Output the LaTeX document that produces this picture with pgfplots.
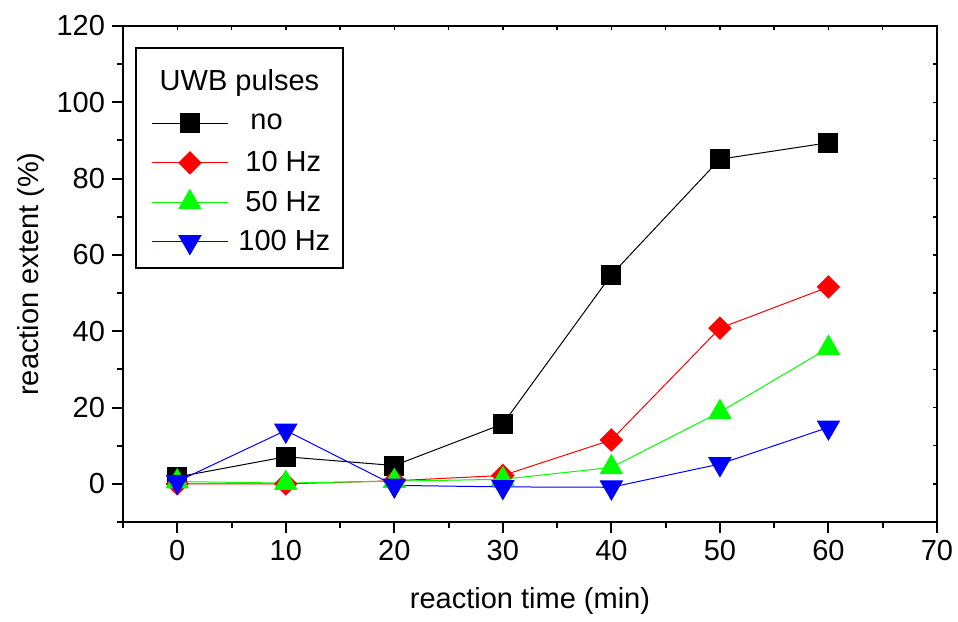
\documentclass[border=0pt]{standalone}
\usepackage{fontspec}
\setmainfont{Liberation Sans}
\usepackage{pgfplots}
\pgfplotsset{compat=1.18}
\begin{document}
\begin{tikzpicture}[font=\fontsize{14.5}{17}\selectfont]
\path[use as bounding box] (-61.5pt,-49.5pt) rectangle (417.5pt,261pt);
\begin{axis}[
  at={(0,0)}, anchor=south west, scale only axis,
  width=407pt, height=248pt,
  xmin=-5, xmax=70, ymin=-10, ymax=120,
  xtick={0,10,...,70}, minor xtick={-5,5,...,65},
  ytick={0,20,...,120}, minor ytick={-10,10,...,110},
  xtick pos=left, ytick pos=left, tick align=outside,
  major tick length=5.5pt, minor tick length=3pt,
  axis line style={line width=1pt},
  every tick/.style={line width=1pt, black},
  /pgf/number format/assume math mode=true,
  xticklabel style={font=\fontsize{14.5}{17}\selectfont},
  yticklabel style={font=\fontsize{14.5}{17}\selectfont},
  xlabel={reaction time (min)}, ylabel={reaction extent (\%)},
  xlabel style={at={(axis description cs:0.5,0)}, anchor=center, yshift=-39.5pt},
  ylabel style={at={(axis description cs:0,0.5)}, anchor=center, rotate=0, yshift=46pt},
  legend style={at={(0.0344,0.8443)}, anchor=north west, draw=none, fill=none,
    inner sep=0pt, column sep=5pt, row sep=0pt,
    nodes={inner sep=0pt, minimum height=19.75pt},
    font=\fontsize{14.5}{17}\selectfont},
  legend cell align=left,
  legend image code/.code={\draw[mark repeat=2,mark phase=2] plot coordinates {(0pt,0pt)(19pt,0pt)(38pt,0pt)};},
]
\addplot[black, line width=0.5pt, mark=square*, mark size=4.75pt, mark options={solid}] coordinates {
 (0,1.8) (10,7.1) (20,4.8) (30,15.7) (40,54.8) (50,85.1) (60,89.4)};
\addlegendentry{\hspace{6pt}no}
\addplot[red, line width=0.5pt, mark=square*, mark size=3.9pt, mark options={rotate=45}] coordinates {
 (0,0) (10,0) (20,0.8) (30,2.2) (40,11.5) (50,40.8) (60,51.6)};
\addlegendentry{\hspace{3.5pt}10 Hz}
\addplot[green, line width=0.5pt, mark=triangle*, mark size=6.3pt] coordinates {
 (0,0.6) (10,0.2) (20,0.7) (30,1.2) (40,4.3) (50,18.8) (60,35.6)};
\addlegendentry{\hspace{3.5pt}50 Hz}
\addplot[blue, line width=0.5pt, mark=triangle*, mark size=6.3pt, mark options={rotate=180}] coordinates {
 (0,0.6) (10,14.0) (20,-0.4) (30,-0.8) (40,-0.9) (50,5.2) (60,14.8)};
\addlegendentry{100 Hz}
\draw[line width=0.75pt] (rel axis cs:0.016,0.5121) rectangle (rel axis cs:0.2703,0.9556);
\node at (rel axis cs:0.1431,0.885) {UWB pulses};
\end{axis}
\begin{axis}[
  at={(0,0)}, anchor=south west, scale only axis,
  width=407pt, height=248pt,
  xmin=-5, xmax=70, ymin=-10, ymax=120,
  xtick={0,10,...,70}, minor xtick={-5,5,...,65},
  ytick={0,20,...,120}, minor ytick={-10,10,...,110},
  xtick pos=right, ytick pos=right, tick align=inside,
  major tick length=2pt, minor tick length=2pt,
  axis line style={line width=1pt},
  every tick/.style={line width=0.75pt, black},
  xticklabels={}, yticklabels={},
]
\end{axis}
\end{tikzpicture}
\end{document}
